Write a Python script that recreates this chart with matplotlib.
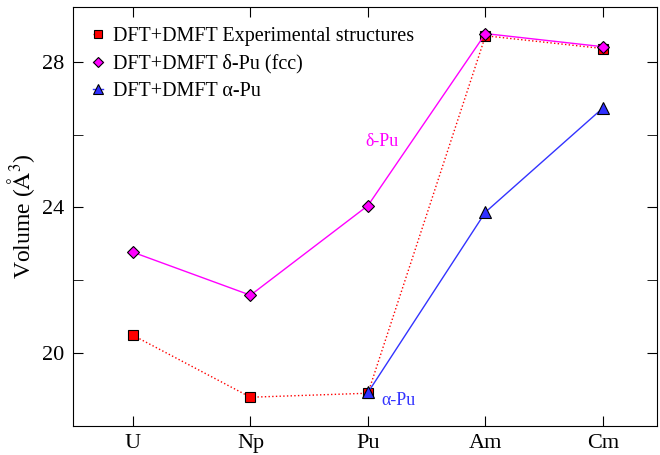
import matplotlib
matplotlib.use("Agg")
import matplotlib.pyplot as plt

plt.rcParams['font.family'] = ['Liberation Serif', 'DejaVu Serif']
plt.rcParams['mathtext.fontset'] = 'stix'

# datos
elementos = ['U', 'Np', 'Pu', 'Am', 'Cm']
vol_exp = [20.49, 18.79, 18.90, 28.71, 28.36]
vol_delta = [22.77, 21.59, 24.05, 28.77, 28.41]
elem_alpha = [2, 3, 4]
vol_alpha = [18.92, 23.87, 26.73]

x = list(range(len(elementos)))

fig = plt.figure(figsize=(6.6, 4.55), dpi=100)
ax = fig.add_axes([0.1106, 0.0637, 0.8849, 0.9209])

ax.plot(x, vol_exp, color='red', linestyle=':', linewidth=1.0,
        marker='s', markersize=7, markerfacecolor='red', markeredgecolor='black',
        markeredgewidth=0.8, label='DFT+DMFT Experimental structures')
ax.plot(x, vol_delta, color='magenta', linestyle='-', linewidth=1.0,
        marker='D', markersize=6, markerfacecolor='magenta', markeredgecolor='black',
        markeredgewidth=0.8, label='DFT+DMFT δ-Pu (fcc)')
ax.plot(elem_alpha, vol_alpha, color='#3333ff', linestyle='-', linewidth=1.0,
        marker='^', markersize=8, markerfacecolor='#3030ff', markeredgecolor='black',
        markeredgewidth=0.8, label='DFT+DMFT α-Pu')

ax.text(2.12, 25.8, 'δ-Pu', color='magenta', fontsize=13, ha='center', va='center')
ax.text(2.26, 18.71, 'α-Pu', color='#3333ff', fontsize=13, ha='center', va='center')

ax.set_xlim(-0.51, 4.46)
ax.set_ylim(18, 29.5)
ax.set_xticks(x)
ax.set_xticklabels(elementos)
ax.set_yticks([20, 24, 28])
ax.set_yticks([22, 26], minor=True)
ax.tick_params(axis='both', which='both', direction='in', top=True, right=True,
               labelsize=16, pad=6)
ax.tick_params(axis='both', which='major', length=7)
ax.tick_params(axis='both', which='minor', length=7)
ax.set_ylabel('Volume ($\\mathrm{\\AA}^3$)', fontsize=17, labelpad=4)

ax.legend(loc='upper left', frameon=False, fontsize=14.5, handlelength=0.5,
          handletextpad=0.5, labelspacing=0.4, borderaxespad=0.7,
          borderpad=0.3, markerscale=0.9)

fig.savefig('out.png', dpi=100)
